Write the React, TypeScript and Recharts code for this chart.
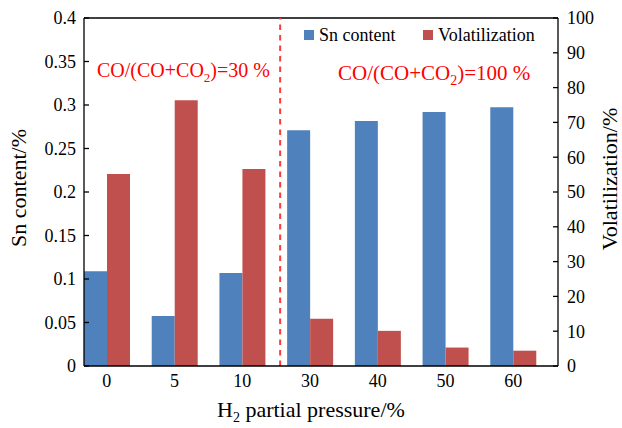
import { BarChart, Bar, XAxis, YAxis, ReferenceLine, Customized } from "recharts";

const FONT = '"Liberation Serif", "Times New Roman", serif';
const BLUE = "#4f81bd";
const RED = "#c0504d";
const ANNOT = "#ff0000";

const pressures = ["0", "5", "10", "30", "40", "50", "60"];
const snContent = [0.109, 0.0575, 0.107, 0.271, 0.2815, 0.292, 0.2975];
const volatilization = [55.2, 76.4, 56.6, 13.6, 10.1, 5.3, 4.4];
const leftTicks = [0, 0.05, 0.1, 0.15, 0.2, 0.25, 0.3, 0.35, 0.4];
const rightTicks = [0, 10, 20, 30, 40, 50, 60, 70, 80, 90, 100];

const data = pressures.map((p, i) => ({
  pressure: p,
  sn: snContent[i],
  vol: volatilization[i],
}));

const tickStyle = { fontSize: 18, fill: "#000", fontFamily: FONT };

// dashed divider sits a few px right of the band edge in the original
const DividerLine = (p: any) => (
  <line
    x1={p.x1 + 4}
    y1={p.y1}
    x2={p.x2 + 4}
    y2={p.y2}
    stroke="#ff3b3b"
    strokeWidth={2}
    strokeDasharray="5.5 5"
  />
);

function Decor() {
  return (
    <g fontFamily={FONT}>
      <text x={26} y={188} transform="rotate(-90 26 188)" textAnchor="middle" fontSize={22} fill="#000">
        Sn content/%
      </text>
      <text x={617} y={179} transform="rotate(-90 617 179)" textAnchor="middle" fontSize={22} fill="#000">
        Volatilization/%
      </text>
      <text x={217} y={417} fontSize={22} fill="#000">
        H<tspan dy={5} fontSize={14}>2</tspan>
        <tspan dy={-5}> partial pressure/%</tspan>
      </text>

      {/* legend */}
      <rect x={304} y={30} width={10} height={10} fill={BLUE} />
      <text x={319} y={41} fontSize={18} fill="#000">Sn content</text>
      <rect x={423} y={30} width={10} height={10} fill={RED} />
      <text x={438} y={41} fontSize={18} fill="#000">Volatilization</text>

      {/* regime notes */}
      <text x={97} y={77} fontSize={20} fill={ANNOT}>
        CO/(CO+CO<tspan dy={5} fontSize={13}>2</tspan>
        <tspan dy={-5}>)=30 %</tspan>
      </text>
      <text x={338} y={80} fontSize={21} fill={ANNOT}>
        CO/(CO+CO<tspan dy={5} fontSize={14}>2</tspan>
        <tspan dy={-5}>)=100 %</tspan>
      </text>
    </g>
  );
}

export default function App() {
  return (
    <div style={{ position: "absolute", left: 0, top: 0, width: 622, height: 428, background: "#fff" }}>
      <BarChart
        width={622}
        height={428}
        data={data}
        margin={{ top: 18, right: 0, bottom: 0, left: 0 }}
        barSize={23}
        barGap={0}
      >
        <XAxis
          dataKey="pressure"
          height={62}
          padding={{ left: -11, right: 11 }}
          tickLine={false}
          tickSize={0}
          tickMargin={8}
          tick={tickStyle}
          axisLine={{ stroke: "#000", strokeWidth: 1.3 }}
        />
        <YAxis
          yAxisId="left"
          width={84}
          domain={[0, 0.4]}
          ticks={leftTicks}
          tickFormatter={(v) => String(v)}
          tickSize={-5}
          tickMargin={13}
          tick={tickStyle}
          tickLine={{ stroke: "#000", strokeWidth: 1.3 }}
          axisLine={{ stroke: "#000", strokeWidth: 1.3 }}
          allowDataOverflow
        />
        <YAxis
          yAxisId="right"
          orientation="right"
          width={64}
          domain={[0, 100]}
          ticks={rightTicks}
          tickSize={-5}
          tickMargin={14}
          tick={{ ...tickStyle, textAnchor: "start" }}
          tickLine={{ stroke: "#000", strokeWidth: 1.3 }}
          axisLine={{ stroke: "#000", strokeWidth: 1.3 }}
          allowDataOverflow
        />
        <ReferenceLine yAxisId="left" y={0.4} stroke="#000" strokeWidth={1.3} />
        <ReferenceLine yAxisId="left" x="10" position="end" shape={DividerLine} />
        <Bar yAxisId="left" dataKey="sn" fill={BLUE} isAnimationActive={false} />
        <Bar yAxisId="right" dataKey="vol" fill={RED} isAnimationActive={false} />
        <Customized component={Decor} />
      </BarChart>
    </div>
  );
}
